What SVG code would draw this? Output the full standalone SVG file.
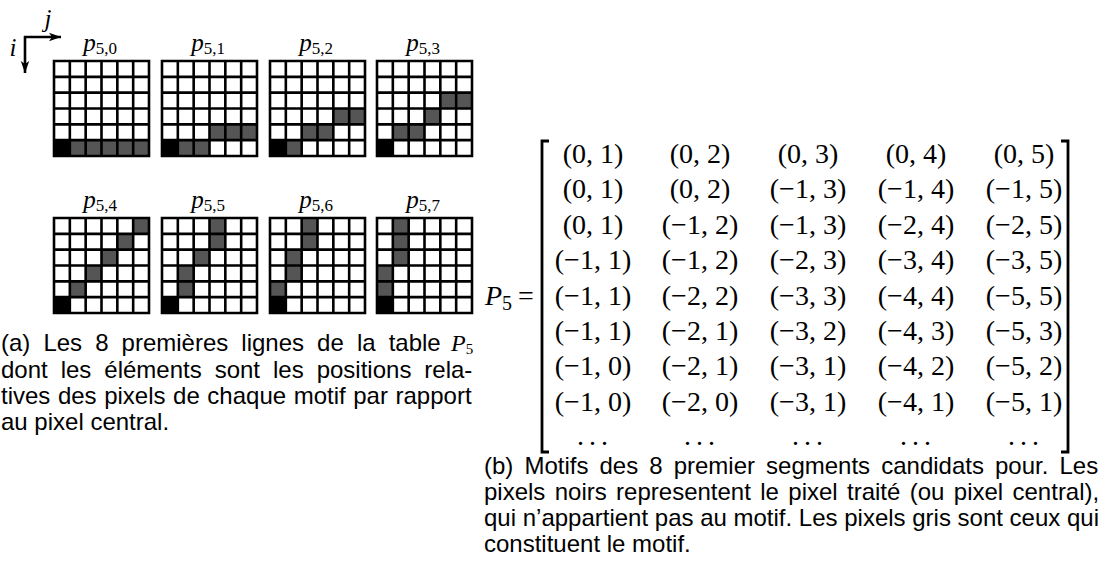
<svg xmlns="http://www.w3.org/2000/svg" xmlns:xlink="http://www.w3.org/1999/xlink" width="1106" height="579" viewBox="0 0 1106 579">
<style>
.cap{font-family:"Liberation Sans",Arial,sans-serif;font-size:24px;fill:#000}
.mi{font-family:"Liberation Serif","Times New Roman",serif;font-style:italic;fill:#000}
.rm{font-family:"Liberation Serif","Times New Roman",serif;fill:#000}
.m{font-family:"Liberation Serif","Times New Roman",serif;font-size:28px;fill:#000;text-anchor:middle}
.lbl{font-family:"Liberation Serif","Times New Roman",serif;font-size:25px;text-anchor:middle}
.g{fill:#555}
.k{fill:#000}
.gl{fill:none;stroke:#000;stroke-width:2.6;stroke-linecap:square}
.ax{fill:none;stroke:#000;stroke-width:2.6}
.br{fill:none;stroke:#000;stroke-width:2.8}
</style>
<defs>
<marker id="arr" viewBox="0 0 12 10" refX="12" refY="5" markerWidth="12" markerHeight="10" markerUnits="userSpaceOnUse" orient="auto">
<path d="M0,0.8 L12,5 L0,9.2 L3,5 z" fill="#000"/>
</marker>
<g id="grid">
<rect x="0" y="0" width="95" height="95" fill="#fff"/>
<rect class="k" x="0" y="79.17" width="15.83" height="15.83"/>
</g>
<path id="lines" class="gl" d="M0 0H95M0 15.83H95M0 31.67H95M0 47.5H95M0 63.33H95M0 79.17H95M0 95H95M0 0V95M15.83 0V95M31.67 0V95M47.5 0V95M63.33 0V95M79.17 0V95M95 0V95"/>
</defs>
<rect width="1106" height="579" fill="#fff"/>

<g id="axes">
<path class="ax" d="M24,37 H61" marker-end="url(#arr)"/>
<path class="ax" d="M25,36 V73" marker-end="url(#arr)"/>
<text class="mi" x="48" y="27" font-size="25" text-anchor="middle">j</text>
<text class="mi" x="13" y="56" font-size="25" text-anchor="middle">i</text>
</g>

<g id="p50" transform="translate(54,61)">
<use xlink:href="#grid"/>
<rect class="g" x="15.83" y="79.17" width="15.83" height="15.83"/><rect class="g" x="31.67" y="79.17" width="15.83" height="15.83"/><rect class="g" x="47.5" y="79.17" width="15.83" height="15.83"/><rect class="g" x="63.33" y="79.17" width="15.83" height="15.83"/><rect class="g" x="79.17" y="79.17" width="15.83" height="15.83"/>
<use xlink:href="#lines"/>
<text class="lbl" x="46" y="-10"><tspan class="mi">p</tspan><tspan class="rm" font-size="17" dy="3">5,0</tspan></text>
</g>
<g id="p51" transform="translate(162,61)">
<use xlink:href="#grid"/>
<rect class="g" x="15.83" y="79.17" width="15.83" height="15.83"/><rect class="g" x="31.67" y="79.17" width="15.83" height="15.83"/><rect class="g" x="47.5" y="63.33" width="15.83" height="15.83"/><rect class="g" x="63.33" y="63.33" width="15.83" height="15.83"/><rect class="g" x="79.17" y="63.33" width="15.83" height="15.83"/>
<use xlink:href="#lines"/>
<text class="lbl" x="46" y="-10"><tspan class="mi">p</tspan><tspan class="rm" font-size="17" dy="3">5,1</tspan></text>
</g>
<g id="p52" transform="translate(270,61)">
<use xlink:href="#grid"/>
<rect class="g" x="15.83" y="79.17" width="15.83" height="15.83"/><rect class="g" x="31.67" y="63.33" width="15.83" height="15.83"/><rect class="g" x="47.5" y="63.33" width="15.83" height="15.83"/><rect class="g" x="63.33" y="47.5" width="15.83" height="15.83"/><rect class="g" x="79.17" y="47.5" width="15.83" height="15.83"/>
<use xlink:href="#lines"/>
<text class="lbl" x="46" y="-10"><tspan class="mi">p</tspan><tspan class="rm" font-size="17" dy="3">5,2</tspan></text>
</g>
<g id="p53" transform="translate(377,61)">
<use xlink:href="#grid"/>
<rect class="g" x="15.83" y="63.33" width="15.83" height="15.83"/><rect class="g" x="31.67" y="63.33" width="15.83" height="15.83"/><rect class="g" x="47.5" y="47.5" width="15.83" height="15.83"/><rect class="g" x="63.33" y="31.67" width="15.83" height="15.83"/><rect class="g" x="79.17" y="31.67" width="15.83" height="15.83"/>
<use xlink:href="#lines"/>
<text class="lbl" x="46" y="-10"><tspan class="mi">p</tspan><tspan class="rm" font-size="17" dy="3">5,3</tspan></text>
</g>
<g id="p54" transform="translate(54,218)">
<use xlink:href="#grid"/>
<rect class="g" x="15.83" y="63.33" width="15.83" height="15.83"/><rect class="g" x="31.67" y="47.5" width="15.83" height="15.83"/><rect class="g" x="47.5" y="31.67" width="15.83" height="15.83"/><rect class="g" x="63.33" y="15.83" width="15.83" height="15.83"/><rect class="g" x="79.17" y="0" width="15.83" height="15.83"/>
<use xlink:href="#lines"/>
<text class="lbl" x="46" y="-10"><tspan class="mi">p</tspan><tspan class="rm" font-size="17" dy="3">5,4</tspan></text>
</g>
<g id="p55" transform="translate(162,218)">
<use xlink:href="#grid"/>
<rect class="g" x="15.83" y="63.33" width="15.83" height="15.83"/><rect class="g" x="15.83" y="47.5" width="15.83" height="15.83"/><rect class="g" x="31.67" y="31.67" width="15.83" height="15.83"/><rect class="g" x="47.5" y="15.83" width="15.83" height="15.83"/><rect class="g" x="47.5" y="0" width="15.83" height="15.83"/>
<use xlink:href="#lines"/>
<text class="lbl" x="46" y="-10"><tspan class="mi">p</tspan><tspan class="rm" font-size="17" dy="3">5,5</tspan></text>
</g>
<g id="p56" transform="translate(270,218)">
<use xlink:href="#grid"/>
<rect class="g" x="0" y="63.33" width="15.83" height="15.83"/><rect class="g" x="15.83" y="47.5" width="15.83" height="15.83"/><rect class="g" x="15.83" y="31.67" width="15.83" height="15.83"/><rect class="g" x="31.67" y="15.83" width="15.83" height="15.83"/><rect class="g" x="31.67" y="0" width="15.83" height="15.83"/>
<use xlink:href="#lines"/>
<text class="lbl" x="46" y="-10"><tspan class="mi">p</tspan><tspan class="rm" font-size="17" dy="3">5,6</tspan></text>
</g>
<g id="p57" transform="translate(377,218)">
<use xlink:href="#grid"/>
<rect class="g" x="0" y="63.33" width="15.83" height="15.83"/><rect class="g" x="0" y="47.5" width="15.83" height="15.83"/><rect class="g" x="15.83" y="31.67" width="15.83" height="15.83"/><rect class="g" x="15.83" y="15.83" width="15.83" height="15.83"/><rect class="g" x="15.83" y="0" width="15.83" height="15.83"/>
<use xlink:href="#lines"/>
<text class="lbl" x="46" y="-10"><tspan class="mi">p</tspan><tspan class="rm" font-size="17" dy="3">5,7</tspan></text>
</g>

<g id="caption-a">
<text class="cap" x="1" y="351" word-spacing="6.4">(a) Les 8 premières lignes de la table</text>
<text class="mi" x="451" y="351" font-size="24">P<tspan class="rm" font-size="15" dy="2.5" font-style="normal">5</tspan></text>
<text class="cap" x="1" y="377.5" word-spacing="6.3">dont les éléments sont les positions rela-</text>
<text class="cap" x="1" y="404" word-spacing="0.9">tives des pixels de chaque motif par rapport</text>
<text class="cap" x="1" y="430">au pixel central.</text>
</g>

<g id="matrix">
<text class="mi" x="485" y="304.6" font-size="28">P<tspan class="rm" font-size="20" dy="5" font-style="normal">5</tspan></text>
<text class="rm" x="526" y="304.6" font-size="28" text-anchor="middle">=</text>
<path class="br" d="M549,141 H542 V452 H549"/>
<path class="br" d="M1061,141 H1068 V452 H1061"/>
<g class="m">
<text y="163"><tspan x="593">(0, 1)</tspan><tspan x="700">(0, 2)</tspan><tspan x="808">(0, 3)</tspan><tspan x="916">(0, 4)</tspan><tspan x="1024">(0, 5)</tspan></text>
<text y="198.4"><tspan x="593">(0, 1)</tspan><tspan x="700">(0, 2)</tspan><tspan x="808">(−1, 3)</tspan><tspan x="916">(−1, 4)</tspan><tspan x="1024">(−1, 5)</tspan></text>
<text y="233.8"><tspan x="593">(0, 1)</tspan><tspan x="700">(−1, 2)</tspan><tspan x="808">(−1, 3)</tspan><tspan x="916">(−2, 4)</tspan><tspan x="1024">(−2, 5)</tspan></text>
<text y="269.2"><tspan x="593">(−1, 1)</tspan><tspan x="700">(−1, 2)</tspan><tspan x="808">(−2, 3)</tspan><tspan x="916">(−3, 4)</tspan><tspan x="1024">(−3, 5)</tspan></text>
<text y="304.6"><tspan x="593">(−1, 1)</tspan><tspan x="700">(−2, 2)</tspan><tspan x="808">(−3, 3)</tspan><tspan x="916">(−4, 4)</tspan><tspan x="1024">(−5, 5)</tspan></text>
<text y="340"><tspan x="593">(−1, 1)</tspan><tspan x="700">(−2, 1)</tspan><tspan x="808">(−3, 2)</tspan><tspan x="916">(−4, 3)</tspan><tspan x="1024">(−5, 3)</tspan></text>
<text y="375.4"><tspan x="593">(−1, 0)</tspan><tspan x="700">(−2, 1)</tspan><tspan x="808">(−3, 1)</tspan><tspan x="916">(−4, 2)</tspan><tspan x="1024">(−5, 2)</tspan></text>
<text y="410.8"><tspan x="593">(−1, 0)</tspan><tspan x="700">(−2, 0)</tspan><tspan x="808">(−3, 1)</tspan><tspan x="916">(−4, 1)</tspan><tspan x="1024">(−5, 1)</tspan></text>
<text y="445" letter-spacing="5"><tspan x="595">...</tspan><tspan x="702">...</tspan><tspan x="810">...</tspan><tspan x="918">...</tspan><tspan x="1026">...</tspan></text>
</g>
</g>

<g id="caption-b">
<text class="cap" x="484" y="474" word-spacing="4.4">(b) Motifs des 8 premier segments candidats pour. Les</text>
<text class="cap" x="484" y="500" word-spacing="2.7">pixels noirs representent le pixel traité (ou pixel central),</text>
<text class="cap" x="484" y="526" word-spacing="0">qui n’appartient pas au motif. Les pixels gris sont ceux qui</text>
<text class="cap" x="484" y="552">constituent le motif.</text>
</g>
</svg>
